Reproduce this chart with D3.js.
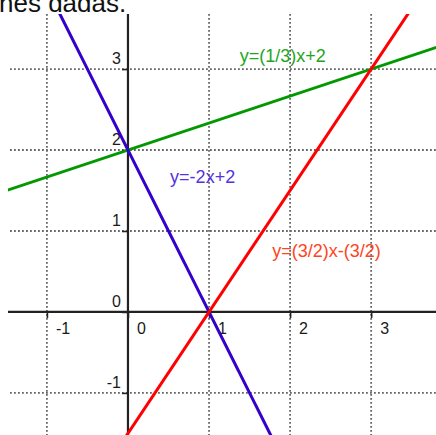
<!DOCTYPE html>
<html>
<head>
<meta charset="utf-8">
<script src="https://cdn.jsdelivr.net/npm/d3@7"></script>
<style>
  body { margin: 0; background: #fff; }
  svg { display: block; }
</style>
</head>
<body>
<div id="chart"></div>
<script>
// values
const xTicks = [-1, 0, 1, 2, 3];
const yTicks = [-1, 0, 1, 2, 3];
const gridX = [-1, 1, 2, 3];
const gridY = [-1, 1, 2, 3];

// each line through two points
const greenPts = [[-3, 1], [6, 4]];
const bluePts = [[-1, 4], [2, -2]];
const redPts = [[-1, -3], [4, 4.5]];

const lineNames = ["y=(1/3)x+2", "y=-2x+2", "y=(3/2)x-(3/2)"];
const labelAt = [[1.38, 3.09], [0.52, 1.59], [1.78, 0.68]];

const width = 436, height = 435;
const plot = {left: 8, right: 436, top: 14, bottom: 435};

const svg = d3.select("#chart")
  .append("svg")
  .attr("width", width)
  .attr("height", height);

const x = d3.scaleLinear().domain([-1.48, 3.8]).range([plot.left, plot.right]);
const y = d3.scaleLinear().domain([-1.52, 3.68]).range([plot.bottom, plot.top]);

svg.append("defs").append("clipPath")
  .attr("id", "clip")
  .append("rect")
  .attr("x", plot.left)
  .attr("y", plot.top)
  .attr("width", plot.right - plot.left)
  .attr("height", plot.bottom - plot.top);

// cut-off heading from the page above
svg.append("text")
  .attr("x", -1)
  .attr("y", 12)
  .style("font-family", "'Liberation Sans', Arial, sans-serif")
  .style("font-size", "26px")
  .style("fill", "#111")
  .text("nes dadas.");

// dotted grid
svg.append("g")
  .selectAll("line")
  .data(gridX)
  .enter().append("line")
  .attr("x1", d => x(d)).attr("x2", d => x(d))
  .attr("y1", plot.top).attr("y2", plot.bottom)
  .attr("stroke", "#666")
  .attr("stroke-width", 1.8)
  .attr("stroke-dasharray", "1.8,2.2");

svg.append("g")
  .selectAll("line")
  .data(gridY)
  .enter().append("line")
  .attr("x1", 10).attr("x2", plot.right)
  .attr("y1", d => y(d)).attr("y2", d => y(d))
  .attr("stroke", "#666")
  .attr("stroke-width", 1.8)
  .attr("stroke-dasharray", "1.8,2.2");

// axes
const xAxis = d3.axisBottom(x).tickValues(xTicks).tickSize(6).tickFormat("");
const yAxis = d3.axisLeft(y).tickValues(yTicks).tickSize(6).tickFormat("");

const gx = svg.append("g")
  .attr("transform", "translate(0," + y(0) + ")")
  .call(xAxis);
gx.select(".domain").attr("d", "M" + plot.left + ",0H" + plot.right);

const gy = svg.append("g")
  .attr("transform", "translate(" + x(0) + ",0)")
  .call(yAxis);
gy.select(".domain").attr("d", "M0," + plot.top + "V" + plot.bottom);

svg.selectAll(".domain").attr("stroke", "#222").attr("stroke-width", 2.2);
svg.selectAll(".tick line").attr("stroke", "#222").attr("stroke-width", 1.6);

const tickFont = "'Liberation Sans', Arial, sans-serif";

svg.append("g")
  .selectAll("text")
  .data(xTicks)
  .enter().append("text")
  .attr("x", d => x(d) + 9)
  .attr("y", y(0) + 22)
  .style("font-family", tickFont)
  .style("font-size", "16px")
  .style("fill", "#1a1a1a")
  .text(d => d);

svg.append("g")
  .selectAll("text")
  .data(yTicks)
  .enter().append("text")
  .attr("x", x(0) - 7)
  .attr("y", d => y(d) - 5)
  .attr("text-anchor", "end")
  .style("font-family", tickFont)
  .style("font-size", "16px")
  .style("fill", "#1a1a1a")
  .text(d => d);

// function lines
const series = [
  {pts: greenPts, color: "#009900", text: "#22a622"},
  {pts: bluePts, color: "#3300cc", text: "#5533dd"},
  {pts: redPts, color: "#ff0000", text: "#ff4422"}
];

const line = d3.line().x(d => x(d[0])).y(d => y(d[1]));

svg.append("g")
  .attr("clip-path", "url(#clip)")
  .selectAll("path")
  .data(series)
  .enter().append("path")
  .attr("d", d => line(d.pts))
  .attr("fill", "none")
  .attr("stroke", d => d.color)
  .attr("stroke-width", 3);

svg.append("g")
  .selectAll("text")
  .data(series)
  .enter().append("text")
  .attr("x", (d, i) => x(labelAt[i][0]))
  .attr("y", (d, i) => y(labelAt[i][1]))
  .style("font-family", tickFont)
  .style("font-size", "18px")
  .style("fill", d => d.text)
  .text((d, i) => lineNames[i]);
</script>
</body>
</html>
